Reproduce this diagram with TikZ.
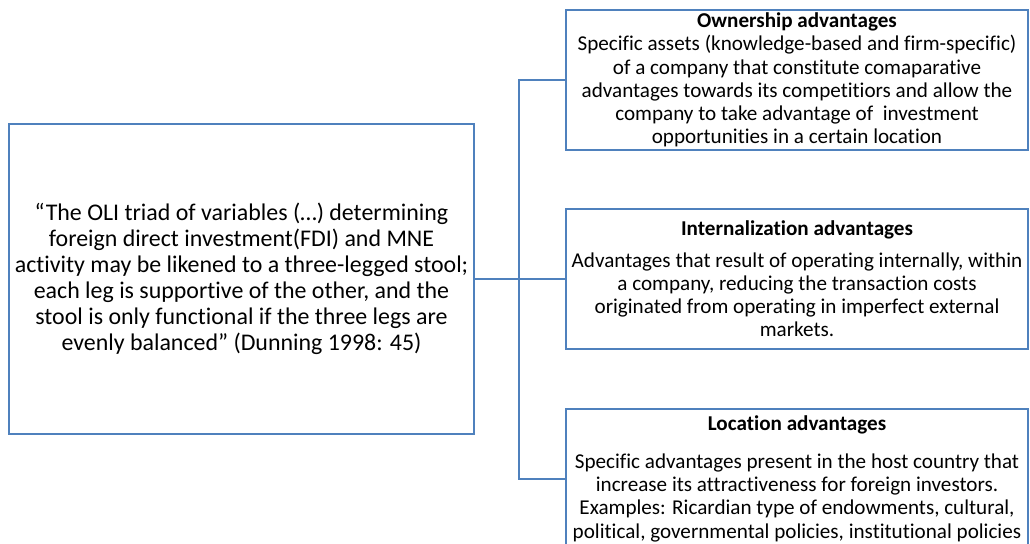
\documentclass[tikz,border=0pt]{standalone}
\usepackage{fontspec}
\setmainfont[Ligatures={TeX,NoCommon}]{Carlito}
\usepackage{tikz}
\usepackage{xcolor}
\usetikzlibrary{positioning,calc}
\definecolor{boxblue}{RGB}{79,129,189}

\tikzset{
  quotebox/.style={draw=boxblue, line width=2bp, rectangle, align=center,
    minimum width=464bp, minimum height=310bp, inner sep=0pt,
    font=\fontsize{24}{26.2}\selectfont},
  advbox/.style={draw=boxblue, line width=2bp, rectangle, align=center,
    minimum width=462bp, minimum height=140bp, inner sep=0pt,
    font=\fontsize{21.2}{23.4}\selectfont},
  link/.style={draw=boxblue, line width=2bp}
}

\begin{document}
\begin{tikzpicture}[x=1bp,y=-1bp]
    \useasboundingbox (0,0) rectangle (1030,544);
    \clip (0,0) rectangle (1030,544);

    % Quote
    \node[quotebox] (quote) at (241.5,279) {``The OLI triad of variables (\ldots) determining\\
      foreign direct investment(FDI) and MNE\\
      activity may be likened to a three-legged stool;\\
      each leg is supportive of the other, and the\\
      stool is only functional if the three legs are\\
      evenly balanced'' (Dunning 1998: 45)};

    % OLI advantages
    \node[advbox] (own) at (797,80) {\textbf{Ownership advantages}\\
      Specific assets (knowledge-based and firm-specific)\\
      of a company that constitute comaparative\\
      advantages towards its competitiors and allow the\\
      company to take advantage of\ \ investment\\
      opportunities in a certain location};

    \node[advbox] (intl) at (797,279) {\textbf{Internalization advantages}\\[8bp]
      Advantages that result of operating internally, within\\
      a company, reducing the transaction costs\\
      originated from operating in imperfect external\\
      markets.};

    \node[advbox] (loc) at (797,479) {\textbf{Location advantages}\\[14bp]
      Specific advantages present in the host country that\\
      increase its attractiveness for foreign investors.\\
      Examples: Ricardian type of endowments, cultural,\\
      political, governmental policies, institutional policies};

    % Connectors
    \coordinate (spine) at (519,279);
    \draw[link] (quote.east) -- (intl.west);
    \draw[link] (own.west) -| (spine) |- (loc.west);
\end{tikzpicture}
\end{document}
